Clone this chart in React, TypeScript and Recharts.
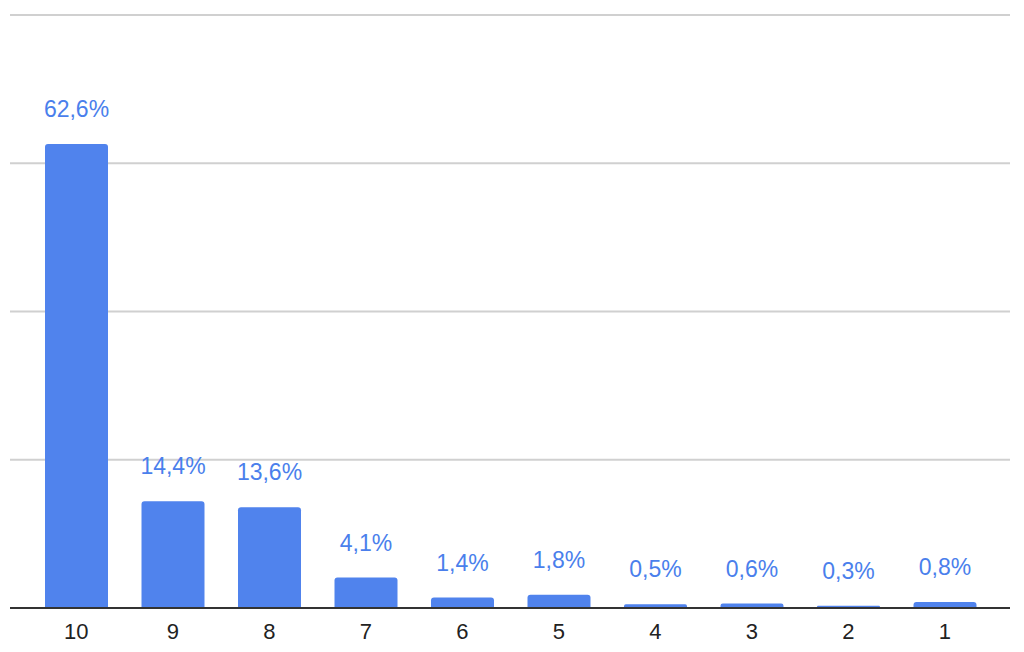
import React from "react";
import { BarChart, Bar, XAxis, YAxis, CartesianGrid, LabelList } from "recharts";

// Ratings from 10 down to 1, share of answers in percent
const ratings = ["10", "9", "8", "7", "6", "5", "4", "3", "2", "1"];
const shares = [62.6, 14.4, 13.6, 4.1, 1.4, 1.8, 0.5, 0.6, 0.3, 0.8];
const yTicks = [0, 20, 40, 60, 80];

const data = ratings.map((rating, i) => ({ rating, share: shares[i] }));

const FONT = "Arial, 'Liberation Sans', sans-serif";
const BLUE = "#5083ed";

const formatPercent = (v: number) => `${v.toFixed(1).replace(".", ",")}%`;

export default function App() {
  return (
    <div style={{ position: "absolute", left: 0, top: 0, width: 1024, height: 652, background: "#fff" }}>
      <BarChart
        width={1024}
        height={652}
        data={data}
        margin={{ top: 15, right: 14, bottom: 0, left: 10 }}
        barSize={63}
      >
        <CartesianGrid vertical={false} stroke="#d0d0d0" strokeWidth={2} />
        <YAxis hide domain={[0, 80]} ticks={yTicks} />
        <XAxis
          dataKey="rating"
          height={44}
          padding={{ left: 18, right: 17 }}
          axisLine={{ stroke: "#333", strokeWidth: 2 }}
          tickLine={false}
          tickMargin={9}
          tick={{ fill: "#222", fontSize: 22, fontFamily: FONT }}
        />
        <Bar dataKey="share" fill={BLUE} radius={[3, 3, 0, 0]} isAnimationActive={false}>
          <LabelList
            dataKey="share"
            position="top"
            offset={27}
            formatter={(v: number) => formatPercent(v)}
            style={{ fill: "#4a7fec", fontSize: 23, fontFamily: FONT }}
          />
        </Bar>
      </BarChart>
    </div>
  );
}
